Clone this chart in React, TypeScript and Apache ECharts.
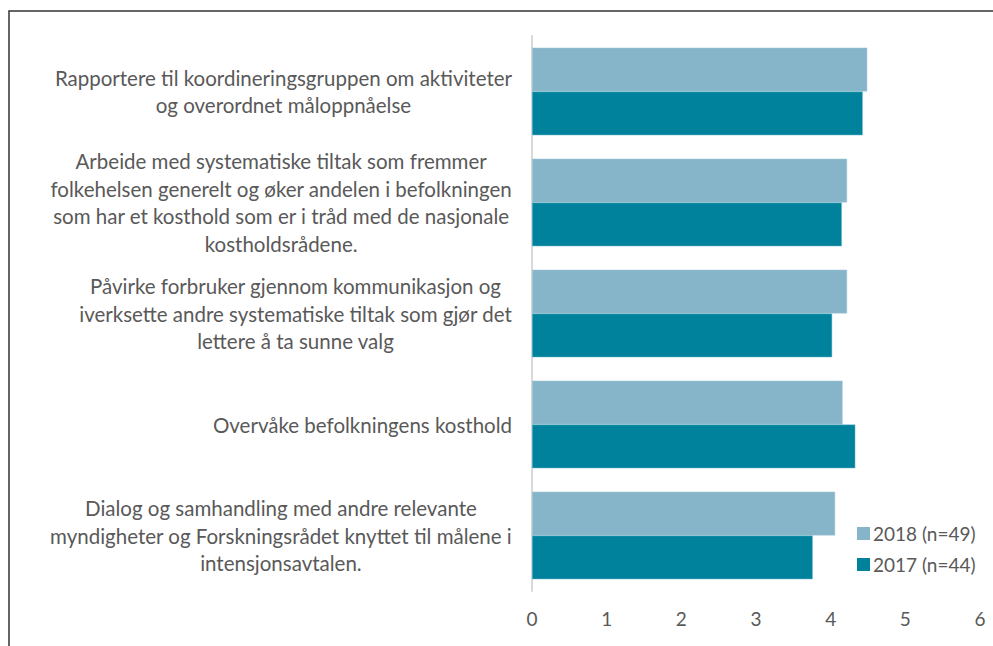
import React, { useEffect, useRef } from "react";
import * as echarts from "echarts";

const categories = [
  "Rapportere til koordineringsgruppen om aktiviteter\nog overordnet måloppnåelse",
  "Arbeide med systematiske tiltak som fremmer\nfolkehelsen generelt og øker andelen i befolkningen\nsom har et kosthold som er i tråd med de nasjonale\nkostholdsrådene.",
  "Påvirke forbruker gjennom kommunikasjon og\niverksette andre systematiske tiltak som gjør det\nlettere å ta sunne valg",
  "Overvåke befolkningens kosthold",
  "Dialog og samhandling med andre relevante\nmyndigheter og Forskningsrådet knyttet til målene i\nintensjonsavtalen.",
];
const values2018 = [4.49, 4.22, 4.22, 4.16, 4.06];
const values2017 = [4.43, 4.15, 4.02, 4.33, 3.76];
const seriesNames = ["2018 (n=49)", "2017 (n=44)"];

const FONT = "Lato";
const GREY = "#595959";

export default function App() {
  const ref = useRef<HTMLDivElement>(null);
  useEffect(() => {
    if (!ref.current) return;
    const chart = echarts.init(ref.current, null, { renderer: "svg" });
    chart.setOption({
      animation: false,
      textStyle: { fontFamily: FONT },
      graphic: [
        {
          type: "rect",
          shape: { x: 9, y: 11, width: 1000, height: 700 },
          style: { fill: "none", stroke: "#333333", lineWidth: 1.5 },
          silent: true,
        },
      ],
      grid: { left: 532, right: 13, top: 36, bottom: 55 },
      legend: {
        orient: "vertical",
        left: 852,
        top: 519,
        itemWidth: 13,
        itemHeight: 13,
        itemGap: 12,
        icon: "rect",
        data: seriesNames,
        itemStyle: { borderWidth: 0 },
        textStyle: { fontFamily: FONT, fontSize: 19, color: GREY, padding: [0, 0, 0, -2] },
      },
      xAxis: {
        type: "value",
        min: 0,
        max: 6,
        interval: 1,
        axisLine: { show: false },
        axisTick: { show: false },
        splitLine: { show: false },
        axisLabel: { fontFamily: FONT, fontSize: 19, color: GREY, margin: 18 },
      },
      yAxis: {
        type: "category",
        inverse: true,
        data: categories,
        axisLine: { show: true, lineStyle: { color: "#d9d9d9", width: 2 } },
        axisTick: { show: false },
        axisLabel: {
          margin: 20,
          align: "right",
          lineHeight: 27.5,
          fontFamily: FONT,
          fontSize: 20.5,
          color: GREY,
          formatter: (v: string) =>
            v
              .split("\n")
              .map((l) => "{c|" + l + "}")
              .join("\n"),
          rich: {
            c: { align: "center", fontFamily: FONT, fontSize: 20.5, color: GREY, lineHeight: 27.5 },
          },
        },
      },
      series: [
        {
          name: seriesNames[0],
          type: "bar",
          data: values2018,
          barGap: "0%",
          barCategoryGap: "21%",
          itemStyle: { color: "#86b4c8", borderColor: "#a9cfdc", borderWidth: 0.5 },
        },
        {
          name: seriesNames[1],
          type: "bar",
          data: values2017,
          barGap: "0%",
          barCategoryGap: "21%",
          itemStyle: { color: "#00819c", borderColor: "#7fc3d3", borderWidth: 0.5 },
        },
      ],
    });
    return () => chart.dispose();
  }, []);
  return (
    <div
      ref={ref}
      style={{ position: "fixed", left: 0, top: 0, width: 993, height: 646, background: "#fff" }}
    />
  );
}
